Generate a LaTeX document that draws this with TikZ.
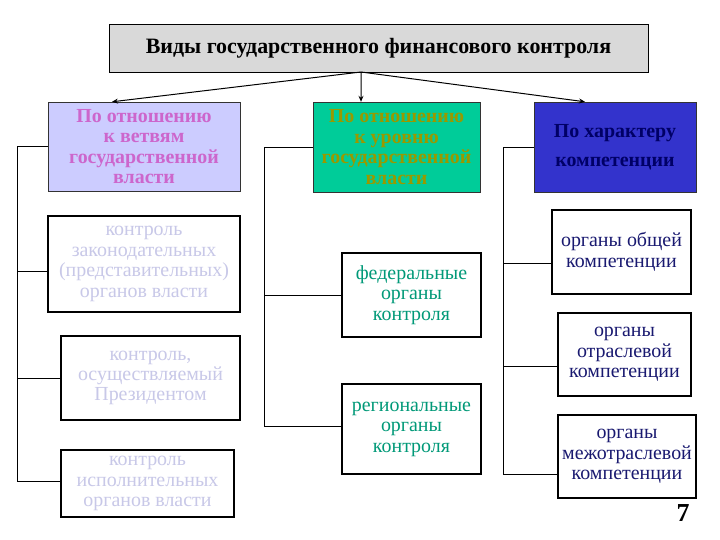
\documentclass[tikz,border=0pt]{standalone}
\usepackage{fontspec}
\setmainfont{Liberation Serif}
\usepackage{tikz}
\usetikzlibrary{arrows.meta, positioning}
\definecolor{titlegray}{RGB}{217,217,217}
\definecolor{lavender}{RGB}{204,204,255}
\definecolor{orchid}{RGB}{204,102,204}
\definecolor{seagreen}{RGB}{0,204,153}
\definecolor{olivetext}{RGB}{153,153,0}
\definecolor{royal}{RGB}{51,51,204}
\definecolor{navytext}{RGB}{0,0,102}
\definecolor{palelilac}{RGB}{200,200,232}
\definecolor{tealtext}{RGB}{0,153,120}
\definecolor{midnight}{RGB}{25,25,112}

\begin{document}
\begin{tikzpicture}[
      x=1bp, y=-1bp,
      font=\fontsize{20}{20.5}\selectfont,
      title/.style={rectangle, draw=black, thin, fill=titlegray, align=center, inner sep=0pt, font=\fontsize{22}{24}\selectfont\bfseries},
      kind/.style={rectangle, draw=black!80, thin, align=center, inner sep=0pt, font=\fontsize{20}{20.5}\selectfont\bfseries},
      item/.style={rectangle, draw=black, line width=1.1pt, fill=white, align=center, inner sep=0pt},
      edge/.style={-{Stealth[length=6pt,width=5pt]}, line width=1pt, black},
      tree/.style={line width=1pt, black},
    ]
    \useasboundingbox (0,0) rectangle (720,540);

    % title and the three kinds
    \node[title, minimum width=539bp, minimum height=48bp] (title) at (378.5,48) {Виды государственного финансового контроля};
    \node[kind, fill=lavender, text=orchid, minimum width=192bp, minimum height=89bp] (branch) at (144,146.5) {По отношению\\к ветвям\\государственной\\власти};
    \node[kind, fill=seagreen, text=olivetext, minimum width=167bp, minimum height=90bp] (level) at (396.5,147) {По отношению\\к уровню\\государственной\\власти};
    \node[kind, fill=royal, text=navytext, minimum width=162bp, minimum height=90bp] (compet) at (615,147) {По характеру\\[9bp]компетенции};

    \coordinate (fork) at (361,72);
    \draw[edge] (fork) -- ([xshift=-32bp]branch.north);
    \draw[edge] (fork) -- ([xshift=-35.5bp]level.north);
    \draw[edge] (fork) -- ([xshift=-30bp]compet.north);

    % branches of power
    \node[item, text=palelilac, minimum width=192bp, minimum height=96bp] (legis) at (144,264) {контроль\\законодательных\\(представительных)\\органов власти};
    \node[item, text=palelilac, minimum width=179bp, minimum height=84bp] (pres) at (150.5,378) {контроль,\\осуществляемый\\Президентом};
    \node[item, text=palelilac, minimum width=173bp, minimum height=67bp] (exec) at (147.5,483.5) {контроль\\исполнительных\\органов власти};

    \draw[tree] (branch.west) -- ++(-30,0) |- ([yshift=-7bp]legis.west);
    \draw[tree] (branch.west) -- ++(-30,0) |- (pres.west);
    \draw[tree] (branch.west) -- ++(-30,0) |- ([yshift=2.5bp]exec.west);

    % levels
    \node[item, text=tealtext, minimum width=139bp, minimum height=84bp] (fed) at (411.5,295) {федеральные\\органы\\контроля};
    \node[item, text=tealtext, minimum width=139bp, minimum height=90bp] (reg) at (411.5,429) {региональные\\органы\\контроля};

    \draw[tree] (level.west) -- ++(-48,0) |- (fed.west);
    \draw[tree] (level.west) -- ++(-48,0) |- ([yshift=3bp]reg.west);

    % competence
    \node[item, text=midnight, minimum width=139bp, minimum height=84bp] (general) at (621.5,252) {органы общей\\компетенции};
    \node[item, text=midnight, minimum width=133bp, minimum height=83bp] (sector) at (624.5,354.5) {органы\\отраслевой\\компетенции};
    \node[item, text=midnight, minimum width=138bp, minimum height=83bp] (inter) at (627,456.5) {органы\\межотраслевой\\компетенции};

    \draw[tree] (compet.west) -- ++(-30,0) |- ([yshift=-11bp]general.west);
    \draw[tree] (compet.west) -- ++(-30,0) |- ([yshift=-11.5bp]sector.west);
    \draw[tree] (compet.west) -- ++(-30,0) |- ([yshift=-17.5bp]inter.west);

    \node[font=\fontsize{26}{28}\selectfont\bfseries] (pagenum) at (683,513) {7};
  \end{tikzpicture}
\end{document}
